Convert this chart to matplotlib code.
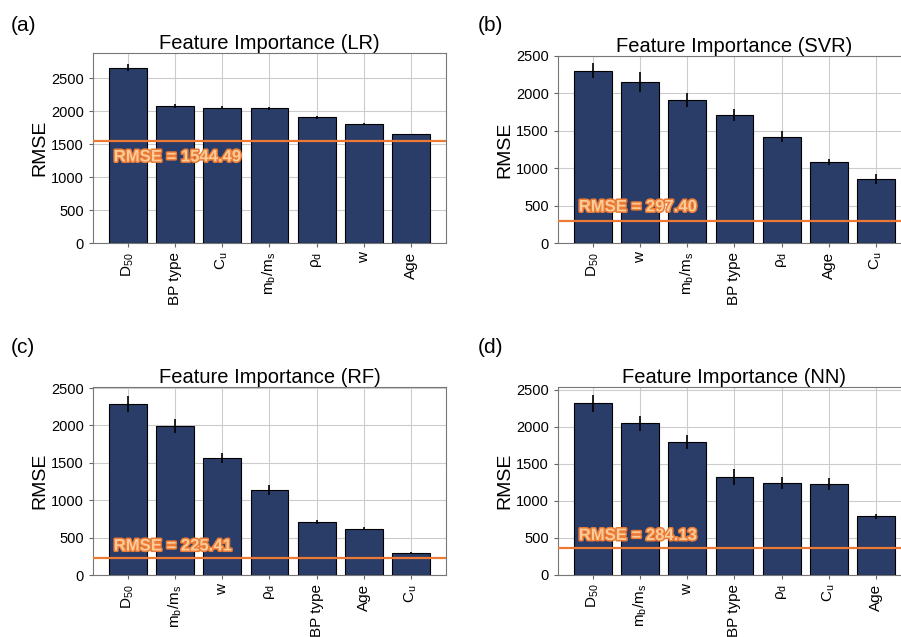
import matplotlib
matplotlib.use("Agg")
import matplotlib.pyplot as plt
import matplotlib.patheffects as pe

plt.rcParams['font.family'] = ['Liberation Sans', 'DejaVu Sans']
plt.rcParams['mathtext.fontset'] = 'custom'
plt.rcParams['mathtext.rm'] = 'Liberation Sans'
plt.rcParams['mathtext.it'] = 'Liberation Sans'

# feature labels
D50 = r'$\mathrm{D_{50}}$'
CU = r'$\mathrm{C_u}$'
MBMS = r'$\mathrm{m_b/m_s}$'
RHO = r'$\mathrm{ρ_d}$'

# (a) LR
lr_feats = [D50, 'BP type', CU, MBMS, RHO, 'w', 'Age']
lr_vals = [2660, 2075, 2050, 2040, 1905, 1800, 1645]
lr_err = [50, 25, 25, 25, 20, 15, 10]
lr_line = 1544.49
lr_text = 'RMSE = 1544.49'

# (b) SVR
svr_feats = [D50, 'w', MBMS, 'BP type', RHO, 'Age', CU]
svr_vals = [2305, 2152, 1912, 1711, 1421, 1079, 858]
svr_err = [95, 130, 90, 80, 75, 40, 65]
svr_line = 297.40
svr_text = 'RMSE = 297.40'

# (c) RF
rf_feats = [D50, MBMS, 'w', RHO, 'BP type', 'Age', CU]
rf_vals = [2290, 1993, 1566, 1135, 712, 622, 298]
rf_err = [105, 100, 70, 65, 25, 20, 8]
rf_line = 225.41
rf_text = 'RMSE = 225.41'

# (d) NN  (line drawn where it appears in the picture)
nn_feats = [D50, MBMS, 'w', 'BP type', RHO, CU, 'Age']
nn_vals = [2316, 2046, 1793, 1324, 1243, 1225, 789]
nn_err = [115, 100, 90, 105, 80, 80, 35]
nn_line = 360
nn_text = 'RMSE = 284.13'

bar_color = '#2A3C68'
line_color = '#EC7A35'

fig = plt.figure(figsize=(9.01, 6.37), dpi=100)

panels = [
    ('(a)', 'Feature Importance (LR)', lr_feats, lr_vals, lr_err, lr_line, lr_text,
     [0.1032, 0.6185, 0.3918, 0.2983], 2880, -240, 0.012, 0.945),
    ('(b)', 'Feature Importance (SVR)', svr_feats, svr_vals, svr_err, svr_line, svr_text,
     [0.6193, 0.6185, 0.3918, 0.2936], 2500, 185, 0.53, 0.945),
    ('(c)', 'Feature Importance (RF)', rf_feats, rf_vals, rf_err, rf_line, rf_text,
     [0.1032, 0.0969, 0.3918, 0.2956], 2514, 165, 0.012, 0.44),
    ('(d)', 'Feature Importance (NN)', nn_feats, nn_vals, nn_err, nn_line, nn_text,
     [0.6193, 0.0978, 0.3918, 0.2940], 2532, 170, 0.53, 0.44),
]

for tag, title, feats, vals, err, line, text, rect, ytop, off, tx, ty in panels:
    ax = fig.add_axes(rect)
    x = range(len(feats))
    ax.bar(x, vals, width=0.8, color=bar_color, edgecolor='black', linewidth=0.8,
           yerr=err, ecolor='black', error_kw=dict(elinewidth=1.2, capsize=0), zorder=3)
    ax.axhline(line, color=line_color, linewidth=1.6, zorder=4)
    ax.set_ylim(0, ytop)
    ax.set_xlim(-0.74, 6.74)
    ax.set_xticks(list(x))
    ax.set_xticklabels(feats, rotation=90, fontsize=11)
    ax.tick_params(axis='y', labelsize=10.5, length=3, color='#666666')
    ax.tick_params(axis='x', length=3, color='#666666')
    ax.grid(True, color='#CCCCCC', linewidth=0.8, zorder=0)
    ax.set_axisbelow(True)
    for s in ax.spines.values():
        s.set_color('#777777')
    ax.set_title(title, fontsize=14.5, pad=3)
    ax.set_ylabel('RMSE', fontsize=14, labelpad=2)
    t = ax.text(-0.3, line + off, text, ha='left', va='center', fontsize=12,
                fontweight='bold', color='#FBCB98', zorder=5)
    t.set_path_effects([pe.Stroke(linewidth=2.2, foreground=line_color), pe.Normal()])
    fig.text(tx, ty, tag, fontsize=15, ha='left', va='bottom')

fig.savefig('out.png', dpi=100)
